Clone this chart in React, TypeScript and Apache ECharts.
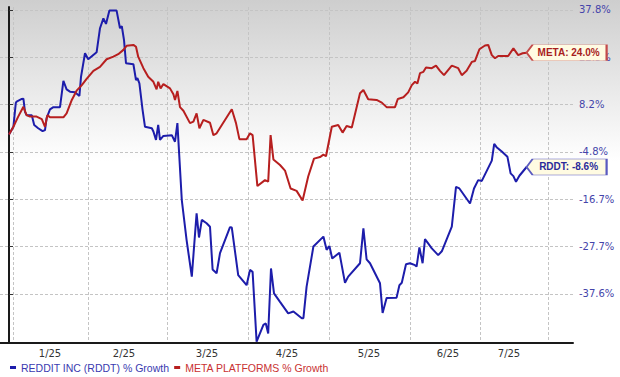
import React, { useEffect, useRef } from 'react';
import * as echarts from 'echarts';

// Y axis tick values (% growth) – the axis is non-linear, ticks equally spaced
const tickValues = [-37.6, -27.7, -16.7, -4.8, 8.2, 22.5, 37.8];
const tickLabels = ['-37.6%', '-27.7%', '-16.7%', '-4.8%', '8.2%', '22.5%', '37.8%'];

// X axis: trading-day index from start
const monthLabels = ['1/25', '2/25', '3/25', '4/25', '5/25', '6/25', '7/25'];
const monthLabelDays = [10.25, 28.75, 49.5, 69.5, 90, 109.75, 125];
const monthGridDays = [1, 19.75, 39.5, 59.75, 80, 100.25, 117.75, 134.75];

// [day, % growth]
const rddt: [number, number][] = [
  [0, 0.0], [1.1, 2.1], [1.7, 8.7], [1.9, 9.1], [3.2, 9.9], [3.6, 10.0], [4.0, 6.2], [4.4, 5.3], [5.7, 5.3],
  [6.3, 2.6], [7.3, 1.7], [8.4, 0.9], [9.0, 1.2], [9.4, 4.5], [10.25, 6.9], [11.1, 7.5], [12.75, 7.5],
  [13.6, 15.4], [14.4, 12.8], [15.25, 12.1], [16.5, 11.9], [17.6, 10.8], [18, 16.6], [19, 23.8], [19.8, 21.9],
  [21.9, 24.1], [22.75, 31.9], [23.6, 35.1], [24.25, 33.3], [25.1, 37.6], [26.9, 37.6], [27.75, 31.9],
  [28.2, 32.6], [28.75, 28.1], [29.25, 20.7], [31.1, 20.4], [31.75, 15.6], [32.1, 16.2], [32.6, 14.6],
  [33.4, 6.7], [34, 2.1], [35.7, 1.7], [36.1, 0.8], [36.75, -1.5], [37.3, 2.6], [37.75, -1.5], [38.6, -0.4],
  [40.7, -0.2], [41.5, -2.0], [42.1, 3.1], [43.2, -16.9], [44.4, -26.2], [45.7, -34.0], [46.9, -20.0],
  [47.5, -25.6], [48.2, -21.5], [49.4, -22.3], [50.25, -23.1], [50.9, -32.5], [51.9, -33.3], [52.75, -29.1],
  [55.25, -23.2], [55.7, -23.3], [57.3, -33.7], [59.4, -35.8], [60.25, -32.6], [60.9, -33.0], [61.9, -47.6],
  [63.6, -44.1], [64.2, -43.8], [64.8, -45.9], [65.5, -32.3], [66.25, -37.5], [67.75, -39.3], [69.8, -41.7],
  [71.1, -41.3], [73.2, -42.7], [73.6, -42.7], [74.4, -36.1], [76.1, -27.7], [78.6, -25.4], [79.4, -28.4],
  [80.1, -27.6], [80.8, -30.2], [82.6, -29.0], [84, -35.3], [84.8, -34.0], [87.75, -31.2], [88.6, -23.5],
  [89.4, -30.4], [90.25, -31.2], [92.75, -35.4], [93.4, -41.6], [94.4, -38.5], [96.9, -38.4], [97.6, -35.8],
  [98.2, -35.3], [99.25, -31.4], [100.25, -31.2], [101.5, -31.6], [101.9, -31.9], [102.6, -27.9],
  [103.4, -31.2], [104, -26.0], [105.7, -28.1], [107.3, -29.5], [108.2, -28.7], [110.7, -23.1],
  [111.75, -13.6], [112.6, -14.0], [115.25, -17.7], [116.25, -14.0], [117.3, -11.9], [118.2, -12.1],
  [120.7, -7.0], [121.3, -2.6], [121.9, -3.5], [123.2, -4.7], [124.6, -6.0], [125.4, -10.2], [126.1, -10.9],
  [126.75, -12.3], [127.6, -10.8], [129.4, -8.6],
];

const meta: [number, number][] = [
  [0, 0.0], [1.1, 2.1], [2.3, 4.9], [3.6, 7.6], [4.4, 5.3], [5.25, 4.9], [6.9, 4.9], [8.2, 4.2], [9, 2.1],
  [9.6, 5.3], [10.25, 4.7], [13.6, 4.7], [14.4, 5.8], [15.7, 9.6], [16.9, 12.4], [18.2, 14.1], [19.4, 16.0],
  [21.1, 18.4], [22.75, 19.6], [24.4, 21.9], [26.1, 22.7], [27.3, 23.5], [28.6, 24.9], [29.4, 26.2],
  [31.1, 26.5], [31.75, 25.9], [32.3, 22.7], [33.6, 19.2], [34.8, 16.6], [36.1, 15.1], [36.9, 12.8],
  [37.3, 15.1], [37.9, 13.1], [38.6, 14.4], [40.25, 13.1], [41.1, 11.3], [41.5, 9.6], [42.1, 12.3],
  [42.75, 7.5], [43.6, 6.5], [45.25, 3.1], [46.1, 3.5], [46.9, 5.8], [47.6, 1.7], [48.6, 4.0], [50.25, 3.2],
  [51.1, -0.2], [51.9, 0.3], [55.7, 6.9], [56.75, 3.1], [57.6, -1.3], [59.4, -1.3], [60.25, 0.3],
  [60.9, -0.2], [62.1, -13.4], [64, -11.9], [64.8, -12.3], [65.4, -0.2], [66.1, -6.7], [67.75, -8.1],
  [69, -9.5], [70.4, -14.0], [71.9, -14.6], [73.4, -17.0], [74.8, -11.0], [76.25, -6.5], [77.75, -6.1],
  [78.6, -5.5], [79.25, -5.9], [80.7, 2.1], [82.3, 2.6], [83.4, 0.5], [84.4, 2.3], [85.7, 1.9],
  [87.75, 11.6], [88.6, 12.6], [89.8, 9.8], [91.9, 9.6], [93.2, 8.8], [94.4, 7.5], [96.5, 7.5], [97.2, 9.9],
  [98.6, 10.4], [99.8, 11.9], [100.7, 14.1], [101.5, 15.1], [102.1, 14.6], [102.75, 17.7], [103.6, 18.1],
  [104.25, 19.4], [105.7, 19.2], [106.75, 20.0], [107.75, 18.4], [108.75, 17.1], [110.7, 20.0],
  [112.3, 19.2], [113.2, 17.1], [114.4, 18.4], [115.7, 21.1], [116.5, 21.4], [117.6, 25.1], [119, 26.3],
  [119.8, 26.5], [120.7, 23.2], [121.5, 22.2], [122.3, 22.9], [124.8, 22.9], [126.1, 25.4], [127.3, 23.2],
  [128.4, 23.8], [129.4, 24.0],
];

const seriesNames = ['REDDIT INC (RDDT) % Growth', 'META PLATFORMS % Growth'];
const tagNames = ['RDDT', 'META'];

// piecewise scale: % growth -> tick-index units
function pctToT(p: number): number {
  const v = tickValues;
  if (p <= v[0]) return (p - v[0]) / (v[1] - v[0]);
  for (let i = 0; i < v.length - 1; i++) {
    if (p <= v[i + 1]) return i + (p - v[i]) / (v[i + 1] - v[i]);
  }
  const n = v.length - 1;
  return n + (p - v[n]) / (v[n] - v[n - 1]);
}

const fmtPct = (p: number) => p.toFixed(1) + '%';

export default function App() {
  const ref = useRef<HTMLDivElement>(null);
  useEffect(() => {
    if (!ref.current) return;
    const chart = echarts.init(ref.current, undefined, { renderer: 'svg' });
    const colors = ['#1d1dab', '#b71f1f'];
    const textColors = ['#3a3ab0', '#c93232'];
    const tagBorders = ['#5a5ac0', '#c44a4a'];
    const tagText = ['#2b2b9a', '#a81e1e'];
    const all = [rddt, meta];

    const series = all.map((d, k) => {
      const last = d[d.length - 1];
      return {
        name: seriesNames[k],
        type: 'line',
        data: d.map(([x, p]) => [x, pctToT(p)]),
        showSymbol: false,
        clip: false,
        lineStyle: { color: colors[k], width: 2 },
        itemStyle: { color: colors[k] },
        z: 3 + k,
        markPoint: {
          silent: true,
          symbol: 'path://M0,8L6,0L80,0L80,16L6,16Z',
          symbolSize: [80, 16],
          symbolOffset: [40, 0],
          itemStyle: { color: '#fffbe2', borderColor: tagBorders[k], borderWidth: 1 },
          label: {
            show: true,
            position: 'inside',
            offset: [2, 0],
            formatter: tagNames[k] + ': ' + fmtPct(last[1]),
            color: tagText[k],
            fontWeight: 'bold',
            fontSize: 10,
            fontFamily: 'Liberation Sans',
          },
          data: [{ coord: [last[0], pctToT(last[1])] }],
        },
      };
    });

    chart.setOption({
      animation: false,
      graphic: {
        elements: [
          {
            type: 'rect',
            z: -100,
            silent: true,
            shape: { x: 0, y: 0, width: 620, height: 343 },
            style: {
              fill: new echarts.graphic.LinearGradient(0, 0, 0, 1, [
                { offset: 0, color: '#cecece' },
                { offset: 0.47, color: '#ffffff' },
                { offset: 1, color: '#ffffff' },
              ]),
            },
          },
        ],
      },
      grid: { left: 0, right: 47, top: 7, bottom: 34 },
      legend: {
        left: 10,
        top: 362,
        padding: 0,
        itemGap: 5,
        itemWidth: 6,
        itemHeight: 3,
        icon: 'rect',
        textStyle: { fontFamily: 'Liberation Sans', fontSize: 10.5 },
        data: seriesNames.map((n, k) => ({ name: n, textStyle: { color: textColors[k] } })),
      },
      xAxis: {
        type: 'value',
        min: -2.25,
        max: 141,
        axisLine: { show: true, onZero: false, lineStyle: { color: '#1a1a1a', width: 2 } },
        axisTick: { show: false, customValues: monthGridDays },
        splitLine: { show: true, lineStyle: { color: '#c4c4c4', type: [3, 2], width: 1 } },
        axisLabel: {
          customValues: monthLabelDays,
          formatter: (v: number) => {
            const i = monthLabelDays.findIndex((d) => Math.abs(d - v) < 1e-6);
            return i >= 0 ? monthLabels[i] : '';
          },
          color: '#333333',
          fontFamily: 'DejaVu Sans',
          fontSize: 10,
          margin: 5,
        },
      },
      yAxis: {
        type: 'value',
        position: 'right',
        min: -1.04,
        max: 6.063,
        axisLine: { show: true, lineStyle: { color: '#1a1a1a', width: 2 } },
        axisTick: {
          show: true,
          inside: false,
          length: 4,
          customValues: [0, 1, 2, 3, 4, 5, 6],
          lineStyle: { color: '#333333', width: 1 },
        },
        splitLine: { show: true, lineStyle: { color: '#c4c4c4', type: [3, 2], width: 1 } },
        axisLabel: {
          customValues: [0, 1, 2, 3, 4, 5, 6],
          formatter: (v: number) => tickLabels[Math.round(v)] ?? '',
          color: '#4444aa',
          fontFamily: 'DejaVu Sans',
          fontSize: 10,
          margin: 6,
        },
      },
      series,
    });
    return () => chart.dispose();
  }, []);
  return <div ref={ref} style={{ width: 620, height: 377, position: 'absolute', left: 0, top: 0 }} />;
}
